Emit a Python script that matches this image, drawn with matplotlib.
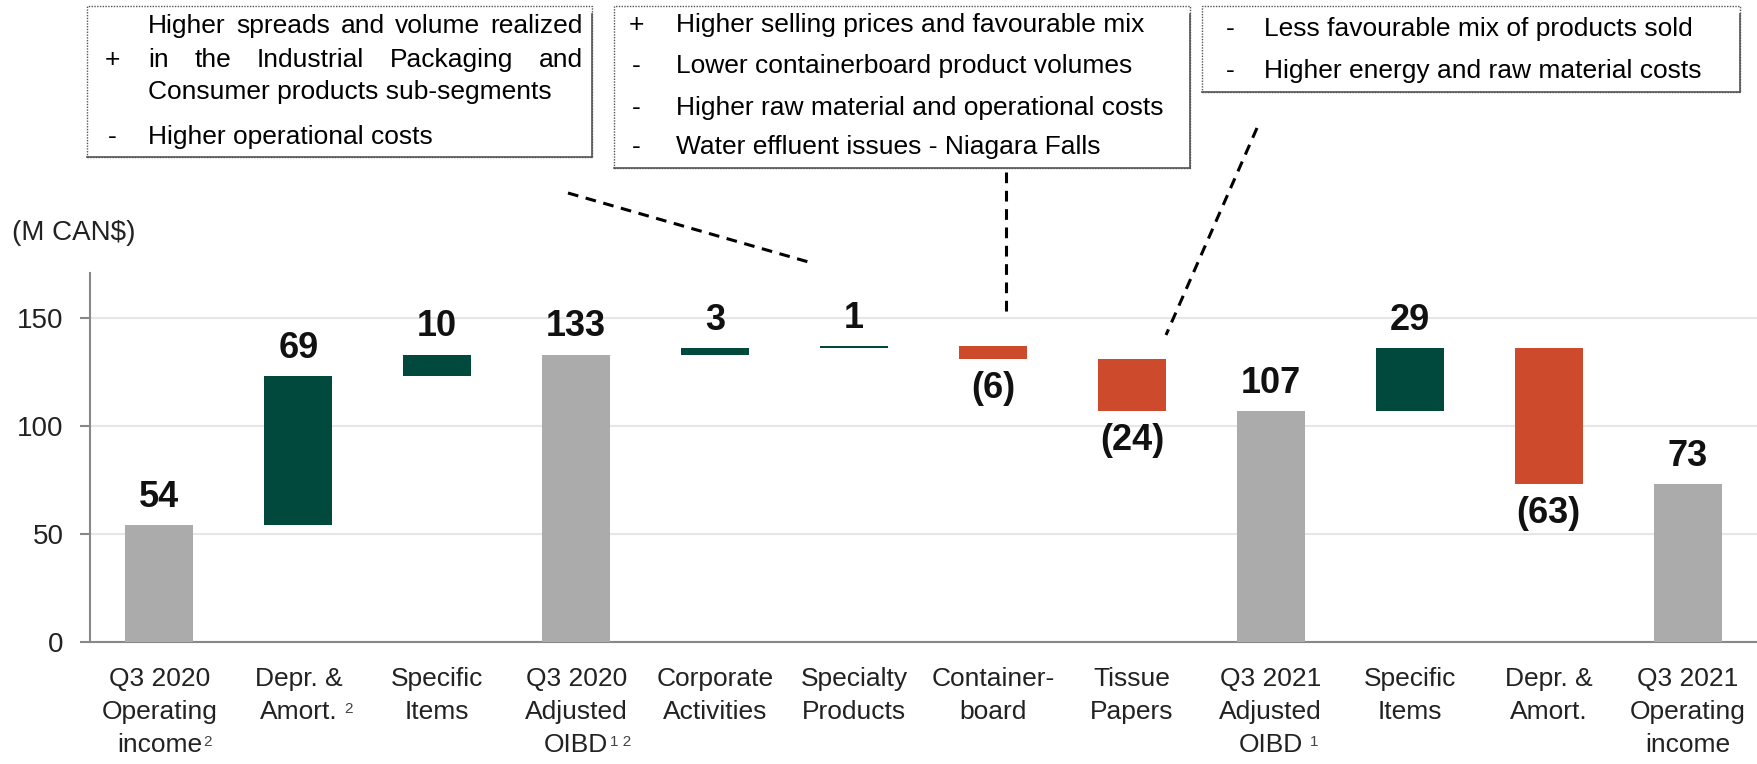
import numpy as np
import matplotlib.pyplot as plt
from matplotlib import font_manager
from matplotlib.lines import Line2D
from matplotlib.patches import Rectangle

# Data (M CAN$)
categories = ["Q3 2020\nOperating\nincome", "Depr. &\nAmort.", "Specific\nItems",
              "Q3 2020\nAdjusted\nOIBD", "Corporate\nActivities", "Specialty\nProducts",
              "Container-\nboard", "Tissue\nPapers", "Q3 2021\nAdjusted\nOIBD",
              "Specific\nItems", "Depr. &\nAmort.", "Q3 2021\nOperating\nincome"]
changes = [54, 69, 10, 133, 3, 1, -6, -24, 107, 29, -63, 73]
is_total = [True, False, False, True, False, False, False, False, True, False, False, True]
value_labels = ["54", "69", "10", "133", "3", "1", "(6)", "(24)", "107", "29", "(63)", "73"]
yticks = [0, 50, 100, 150]
# footnote marks: (category index, line index, mark, gap in px)
footnotes = [(0, 2, "2", 1), (1, 1, "2", 7), (3, 2, "1 2", 2), (8, 2, "1", 7)]

box_left = ["Higher spreads and volume realized in the Industrial Packaging and",
            "Consumer products sub-segments", "Higher operational costs"]
box_mid = [("+", "Higher selling prices and favourable mix"),
           ("-", "Lower containerboard product volumes"),
           ("-", "Higher raw material and operational costs"),
           ("-", "Water effluent issues - Niagara Falls")]
box_right = [("-", "Less favourable mix of products sold"),
             ("-", "Higher energy and raw material costs")]

GRAY = "#ABABAB"
GREEN = "#01493D"
RED = "#CE4A2D"

names = {f.name for f in font_manager.fontManager.ttflist}
FONT = "Liberation Sans Narrow" if "Liberation Sans Narrow" in names else "Liberation Sans"
plt.rcParams['font.family'] = [FONT, 'DejaVu Sans']

W, H = 1757, 764
fig = plt.figure(figsize=(W / 100, H / 100), dpi=100)


def px(x, y):
    return x / W, 1 - y / H


AX_TOP, AX_BOT = 273, 642
ax = fig.add_axes([90 / W, 1 - AX_BOT / H, (W - 90) / W, (AX_BOT - AX_TOP) / H])

# waterfall bottoms / heights
bottoms, heights, colors = [], [], []
running = 0
for c, tot in zip(changes, is_total):
    if tot:
        bottoms.append(0)
        heights.append(c)
        colors.append(GRAY)
        running = c
    else:
        if c >= 0:
            bottoms.append(running)
            colors.append(GREEN)
        else:
            bottoms.append(running + c)
            colors.append(RED)
        heights.append(abs(c))
        running += c

x = np.arange(len(categories))
ax.bar(x, heights, bottom=bottoms, width=0.49, color=colors, zorder=3)

for i in range(len(x)):
    if changes[i] >= 0:
        ax.annotate(value_labels[i], (x[i], bottoms[i] + heights[i]), xytext=(0, 20),
                    textcoords="offset points", ha="center", va="center",
                    fontsize=26, fontweight="bold", color="#111111")
    else:
        ax.annotate(value_labels[i], (x[i], bottoms[i]), xytext=(0, -21),
                    textcoords="offset points", ha="center", va="center",
                    fontsize=26, fontweight="bold", color="#111111")

XS = 19
ax.set_xlim(-0.5, len(x) - 0.5)
ax.set_ylim(0, 170.8)
ax.set_yticks(yticks)
ax.set_yticklabels([str(t) for t in yticks], fontsize=20, color="#222222")
ax.set_xticks(x)
ax.set_xticklabels([])
ax.tick_params(axis="x", length=0)
ax.tick_params(axis="y", length=7, width=1.5, color="#888888", pad=12)
ax.grid(axis="y", color="#E6E6E6", linewidth=1.5, zorder=0)
ax.set_axisbelow(True)
for s in ["top", "right"]:
    ax.spines[s].set_visible(False)
for s in ["left", "bottom"]:
    ax.spines[s].set_color("#888888")
    ax.spines[s].set_linewidth(1.5)

# category labels, one text per line
line_y = [679, 712, 745]
line_arts = {}
for i, cat in enumerate(categories):
    for j, line in enumerate(cat.split("\n")):
        line_arts[(i, j)] = ax.text(x[i], (AX_BOT - line_y[j]) / (AX_BOT - AX_TOP), line,
                                    transform=ax.get_xaxis_transform(), ha="center",
                                    va="center", fontsize=XS, color="#222222")

fig.text(*px(12, 233), "(M CAN$)", fontsize=20, color="#222222", va="center")


# comment boxes
def box(x0, y0, x1, y1):
    fig.patches.append(Rectangle(px(x0, y1), (x1 - x0) / W, (y1 - y0) / H,
                                 transform=fig.transFigure, fill=False,
                                 edgecolor="#555555", linewidth=1, linestyle=(0, (1, 1))))
    fig.add_artist(Line2D([x1 / W, x1 / W], [1 - y0 / H - 0.01, 1 - y1 / H],
                          transform=fig.transFigure, color="#555555", lw=1.2))
    fig.add_artist(Line2D([x0 / W, x1 / W], [1 - y1 / H, 1 - y1 / H],
                          transform=fig.transFigure, color="#555555", lw=1.2))


box(87, 6, 592, 157)
box(614, 6, 1190, 168)
box(1202, 6, 1740, 92)

TS = 19
fig.canvas.draw()
renderer = fig.canvas.get_renderer()

# footnote superscripts to the right of their label line
for ci, li, mark, gap in footnotes:
    bb = line_arts[(ci, li)].get_window_extent(renderer)
    fig.text((bb.x1 + gap) / W, (bb.y1 - 2) / H, mark, fontsize=11, color="#444444",
             ha="left", va="top")


def justify(words, x0, x1, y):
    arts = [fig.text(*px(x0, y), w, fontsize=TS, va="center") for w in words]
    ws = [a.get_window_extent(renderer).width for a in arts]
    gap = (x1 - x0 - sum(ws)) / (len(words) - 1)
    cur = x0
    for a, w in zip(arts, ws):
        a.set_position(px(cur, y))
        cur += w + gap


justify("Higher spreads and volume realized".split(), 148, 583, 26)
justify("in the Industrial Packaging and".split(), 148, 583, 60)
fig.text(*px(148, 92), box_left[1], fontsize=TS, va="center")
fig.text(*px(148, 137), box_left[2], fontsize=TS, va="center")
fig.text(*px(112, 60), "+", fontsize=TS, va="center", ha="center")
fig.text(*px(112, 137), "-", fontsize=TS, va="center", ha="center")

for (sign, txt), yy in zip(box_mid, [25, 66, 108, 147]):
    fig.text(*px(636, yy), sign, fontsize=TS, va="center", ha="center")
    fig.text(*px(676, yy), txt, fontsize=TS, va="center")
for (sign, txt), yy in zip(box_right, [29, 71]):
    fig.text(*px(1230, yy), sign, fontsize=TS, va="center", ha="center")
    fig.text(*px(1264, yy), txt, fontsize=TS, va="center")

# dashed connectors
for (xa, ya), (xb, yb) in [((568, 193), (812, 263)), ((1006, 172), (1006, 315)),
                           ((1257, 128), (1166, 335))]:
    fig.add_artist(Line2D([xa / W, xb / W], [1 - ya / H, 1 - yb / H], transform=fig.transFigure,
                          color="black", lw=2.2, linestyle=(0, (3.5, 2.5))))

fig.savefig("out.png", dpi=100)
